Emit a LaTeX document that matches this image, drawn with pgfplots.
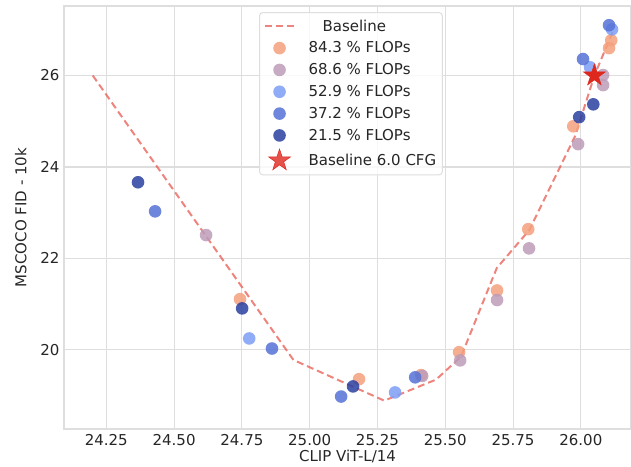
\documentclass[border=0pt]{standalone}
\usepackage{fontspec}
\setmainfont{DejaVu Sans}
\usepackage{pgfplots}
\pgfplotsset{compat=1.18}
\definecolor{cA}{RGB}{245,160,125}
\definecolor{cB}{RGB}{188,156,184}
\definecolor{cC}{RGB}{125,158,245}
\definecolor{cD}{RGB}{85,114,215}
\definecolor{cE}{RGB}{42,64,160}
\definecolor{cLine}{RGB}{230,80,70}
\definecolor{cStar}{RGB}{222,40,30}
\definecolor{gridc}{RGB}{222,222,222}
\definecolor{txt}{RGB}{38,38,38}
\pgfdeclareplotmark{fstar}{%
  \pgfpathmoveto{\pgfqpointpolar{90}{\pgfplotmarksize}}%
  \pgfpathlineto{\pgfqpointpolar{126}{0.382\pgfplotmarksize}}%
  \pgfpathlineto{\pgfqpointpolar{162}{\pgfplotmarksize}}%
  \pgfpathlineto{\pgfqpointpolar{198}{0.382\pgfplotmarksize}}%
  \pgfpathlineto{\pgfqpointpolar{234}{\pgfplotmarksize}}%
  \pgfpathlineto{\pgfqpointpolar{270}{0.382\pgfplotmarksize}}%
  \pgfpathlineto{\pgfqpointpolar{306}{\pgfplotmarksize}}%
  \pgfpathlineto{\pgfqpointpolar{342}{0.382\pgfplotmarksize}}%
  \pgfpathlineto{\pgfqpointpolar{18}{\pgfplotmarksize}}%
  \pgfpathlineto{\pgfqpointpolar{54}{0.382\pgfplotmarksize}}%
  \pgfpathclose
  \pgfusepathqfillstroke
}
\pgfplotsset{
  mylegmark/.style={legend image code/.code={\draw[##1] plot coordinates {(15pt,0pt)};}},
  mylegline/.style={legend image code/.code={\draw[##1] (0pt,0pt) -- (30pt,0pt);}},
  dot/.style={only marks, mark=*, mark size=6.3pt, mylegmark,
    mark options={draw=#1, fill=#1, draw opacity=0, fill opacity=0.85}},
}
\begin{document}
\begin{tikzpicture}
\useasboundingbox (0,0) rectangle (631pt,466pt);
\begin{axis}[
  at={(64pt,37pt)}, anchor=south west,
  scale only axis, width=567pt, height=423pt,
  xmin=24.094, xmax=26.185, ymin=18.27, ymax=27.52,
  xtick={24.25,24.5,24.75,25,25.25,25.5,25.75,26},
  ytick={20,22,24,26},
  xticklabels={24.25,24.50,24.75,25.00,25.25,25.50,25.75,26.00},
  grid=major,
  major grid style={draw=gridc, line width=1.1pt},
  axis line style={draw=gridc, line width=1.2pt},
  tick style={draw=none},
  /pgf/number format/assume math mode=true,
  tick label style={font=\fontsize{15}{18}\selectfont, text=txt},
  xticklabel style={yshift=-2pt},
  yticklabel style={xshift=-1pt},
  label style={font=\fontsize{15}{18}\selectfont, text=txt},
  xlabel={CLIP ViT-L/14},
  ylabel={MSCOCO FID - 10k},
  xlabel style={yshift=3pt},
  ylabel style={yshift=7pt},
  legend cell align=left,
  legend style={at={(0.344,0.983)}, anchor=north west, yshift=1pt,
    font=\fontsize{15}{18}\selectfont, text=txt,
    draw=gridc, line width=1pt, rounded corners=3pt, fill=white, fill opacity=0.8, text opacity=1,
    row sep=5.2pt, inner xsep=4pt, inner ysep=5pt,
    /tikz/every even column/.append style={column sep=0pt},
    /tikz/every odd column/.append style={column sep=11pt}},
]
\addplot[cLine, opacity=0.7, line width=2pt, dash pattern=on 7pt off 4pt, mylegline] coordinates {
(24.20,26.00) (24.94,19.78) (25.275,18.89) (25.466,19.35) (25.558,19.85)
(25.69,21.79) (25.81,22.62) (25.98,24.69) (26.05,26.00) (26.12,26.99)};
\addlegendentry{\hspace{14pt}Baseline}
\addplot[dot=cA] coordinates {
(24.743,21.11) (25.182,19.36) (25.411,19.45) (25.551,19.95) (25.691,21.30)
(25.806,22.64) (25.972,24.89) (26.104,26.60) (26.112,26.77)};
\addlegendentry{84.3 \% FLOPs}
\addplot[dot=cB] coordinates {
(24.618,22.51) (25.415,19.43) (25.555,19.77) (25.691,21.09) (25.809,22.22)
(25.990,24.50) (26.082,26.01) (26.082,25.79)};
\addlegendentry{68.6 \% FLOPs}
\addplot[dot=cC] coordinates {
(24.777,20.25) (25.315,19.07) (26.034,26.18) (26.115,27.01)};
\addlegendentry{52.9 \% FLOPs}
\addplot[dot=cD] coordinates {
(24.430,23.03) (24.861,20.03) (25.116,18.98) (25.389,19.40) (26.008,26.36) (26.104,27.10)};
\addlegendentry{37.2 \% FLOPs}
\addplot[dot=cE] coordinates {
(24.367,23.665) (24.751,20.907) (25.160,19.201) (25.994,25.09) (26.046,25.37)};
\addlegendentry{21.5 \% FLOPs}
\addplot[only marks, mark=fstar, mark size=11.5pt, mylegmark, mark options={draw=cStar, fill=cStar, line width=0.5pt}] coordinates {(26.05,26.00)};
\addlegendentry{Baseline 6.0 CFG}
\end{axis}
\end{tikzpicture}
\end{document}
